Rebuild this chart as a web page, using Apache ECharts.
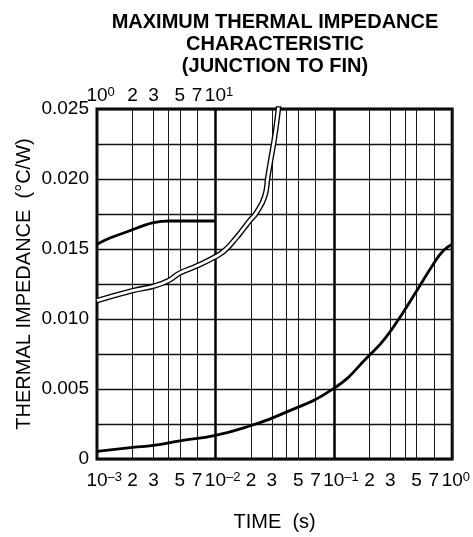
<!DOCTYPE html>
<html><head><meta charset="utf-8">
<script src="https://cdn.jsdelivr.net/npm/echarts@6/dist/echarts.min.js"></script>
<style>html,body{margin:0;padding:0;background:#fff}#c{width:473px;height:537px}</style>
</head><body><div id="c"></div>
<script>
// ---- text ----
const titleLines = ['MAXIMUM THERMAL IMPEDANCE', 'CHARACTERISTIC', '(JUNCTION TO FIN)'];
const yName = 'THERMAL IMPEDANCE  (°C/W)';
const xName = 'TIME  (s)';

// ---- bottom time axis (s) ----
const bottomGridValues = [0.001,0.002,0.003,0.004,0.005,0.007,0.01,0.02,0.03,0.04,0.05,0.07,0.1,0.2,0.3,0.4,0.5,0.7,1];
const bottomDigitValues = [0.002,0.003,0.005,0.007,0.02,0.03,0.05,0.07,0.2,0.3,0.5,0.7];
const bottomDigitLabels = ['2','3','5','7','2','3','5','7','2','3','5','7'];
const bottomPowerValues = [0.001,0.01,0.1,1];
const bottomPowerLabels = ['10^–3','10^–2','10^–1','10^0'];

// ---- top time axis (s) ----
const topDigitValues = [2,3,5,7];
const topDigitLabels = ['2','3','5','7'];
const topPowerValues = [1,10];
const topPowerLabels = ['10^0','10^1'];
const decadeLineValues = [10,100];

// ---- impedance axis ----
const yGridValues = [0,0.0025,0.005,0.0075,0.01,0.0125,0.015,0.0175,0.02,0.0225,0.025];
const yLabelValues = [0,0.005,0.01,0.015,0.02,0.025];
const yLabels = ['0','0.005','0.010','0.015','0.020','0.025'];

// ---- curves ----
// long curve, bottom axis 10^-3 .. 10^0 s
const longTime = [0.001,0.002,0.003,0.005,0.01,0.02,0.035,0.1,0.2,0.27,0.38,0.5,0.69,0.84,1.0];
const longZ    = [0.00055,0.00083,0.00097,0.0013,0.00168,0.00239,0.00315,0.00504,0.00741,0.00859,0.0104,0.0120,0.0139,0.01487,0.01534];
// short curve, bottom axis 10^-3 .. 10^-2 s
const shortTime = [0.001,0.0013,0.0017,0.002,0.0025,0.003,0.0035,0.004,0.01];
const shortZ    = [0.01534,0.01580,0.01616,0.01638,0.01669,0.01688,0.01697,0.01700,0.01700];
// double-line curve, top axis 10^0 .. s
const dblTime = [1,2,3,4,5,7,10,12,15,17.1,19.4,22.2,26.1,27.8,29.7,31.7,33.4,34.5];
const dblZ    = [0.01131,0.01203,0.01234,0.01274,0.01328,0.0138,0.01445,0.0149,0.0158,0.0164,0.0170,0.01759,0.01876,0.0202,0.02162,0.02304,0.02446,0.0255];

const FONT = 'Liberation Sans, Arial, Helvetica, sans-serif';
const FS = 19;

function pick(values, labels, v) {
  for (let i = 0; i < values.length; i++) {
    if (Math.abs(values[i] - v) <= Math.abs(values[i]) * 1e-6 + 1e-12) return labels[i];
  }
  return '';
}
function richLabel(t) {
  if (t.indexOf('^') >= 0) {
    const p = t.split('^');
    return '{h|' + p[1] + '}{b|' + p[0] + '}{s|' + p[1] + '}';
  }
  return '{b|' + t + '}';
}
const rich = {
  b: { fontSize: FS, lineHeight: 20, fontFamily: FONT, color: '#000' },
  s: { fontSize: 13, lineHeight: 12, verticalAlign: 'top', fontFamily: FONT, color: '#000' },
  h: { fontSize: 13, lineHeight: 12, verticalAlign: 'top', fontFamily: FONT, color: 'rgba(0,0,0,0)' }
};
const zip = (a, b) => a.map((x, i) => [x, b[i]]);
function labelAxis(min, max, pos, values, labels, margin) {
  return {
    type: 'log', logBase: 10, min: min, max: max, position: pos,
    axisLine: { show: false }, axisTick: { show: false },
    splitLine: { show: false }, minorTick: { show: false }, minorSplitLine: { show: false },
    axisLabel: { customValues: values, margin: margin, rich: rich,
      hideOverlap: false, showMinLabel: true, showMaxLabel: true,
      formatter: v => richLabel(pick(values, labels, v)) }
  };
}

const chart = echarts.init(document.getElementById('c'), null, { renderer: 'canvas' });
const bottomMain = {
  type: 'log', logBase: 10, min: 0.001, max: 1, position: 'bottom',
  name: xName, nameLocation: 'middle', nameGap: 53, nameMoveOverlap: false,
  nameTextStyle: { fontFamily: FONT, fontSize: 20, color: '#000' },
  axisLine: { show: false },
  axisTick: { show: false, customValues: bottomGridValues },
  axisLabel: { customValues: bottomDigitValues, margin: 12, rich: rich,
    hideOverlap: false, showMinLabel: true, showMaxLabel: true,
    formatter: v => richLabel(pick(bottomDigitValues, bottomDigitLabels, v)) },
  splitLine: { show: true, lineStyle: { color: '#1a1a1a', width: 1 } },
  minorTick: { show: false }, minorSplitLine: { show: false }
};
const topMain = {
  type: 'log', logBase: 10, min: 1, max: 1000, position: 'top',
  axisLine: { show: false },
  axisTick: { show: false, customValues: decadeLineValues },
  axisLabel: { customValues: topDigitValues, margin: 3, rich: rich,
    hideOverlap: false, showMinLabel: true, showMaxLabel: true,
    formatter: v => richLabel(pick(topDigitValues, topDigitLabels, v)) },
  splitLine: { show: true, lineStyle: { color: '#000', width: 2.5 } }
};
chart.setOption({
  backgroundColor: '#fff',
  animation: false,
  title: {
    text: titleLines.join('\n'),
    left: 270, top: 6, textAlign: 'center',
    textStyle: { fontFamily: FONT, fontSize: 20, fontWeight: 'bold', lineHeight: 22, color: '#000' }
  },
  grid: { left: 97, right: 20, top: 109, bottom: 76, show: true, borderColor: '#000', borderWidth: 3, backgroundColor: 'transparent', containLabel: false },
  xAxis: [
    bottomMain,
    topMain,
    labelAxis(0.001, 1, 'bottom', bottomPowerValues, bottomPowerLabels, 12),
    labelAxis(1, 1000, 'top', topPowerValues, topPowerLabels, 3)
  ],
  yAxis: {
    type: 'value', min: 0, max: 0.025,
    name: yName, nameLocation: 'middle', nameGap: 63, nameRotate: 90, nameMoveOverlap: false,
    nameTextStyle: { fontFamily: FONT, fontSize: 20, color: '#000' },
    axisLine: { show: false },
    axisTick: { show: false, customValues: yGridValues },
    axisLabel: { customValues: yLabelValues, margin: 8, fontFamily: FONT, fontSize: FS, color: '#000',
      showMinLabel: true, showMaxLabel: true,
      formatter: v => pick(yLabelValues, yLabels, v) },
    splitLine: { show: true, lineStyle: { color: '#111', width: 1.4 } }
  },
  series: [
    { type: 'line', xAxisIndex: 0, data: zip(longTime, longZ), smooth: 0.5, showSymbol: false,
      lineStyle: { color: '#000', width: 2.8 }, z: 3 },
    { type: 'line', xAxisIndex: 0, data: zip(shortTime, shortZ), smooth: 0.5, showSymbol: false,
      lineStyle: { color: '#000', width: 2.8 }, z: 3 },
    { type: 'line', xAxisIndex: 1, data: zip(dblTime, dblZ), smooth: 0.5, showSymbol: false,
      lineStyle: { color: '#000', width: 5.5 }, z: 4 },
    { type: 'line', xAxisIndex: 1, data: zip(dblTime, dblZ), smooth: 0.5, showSymbol: false,
      lineStyle: { color: '#fff', width: 2.8 }, z: 5 }
  ]
});
</script>
</body></html>
